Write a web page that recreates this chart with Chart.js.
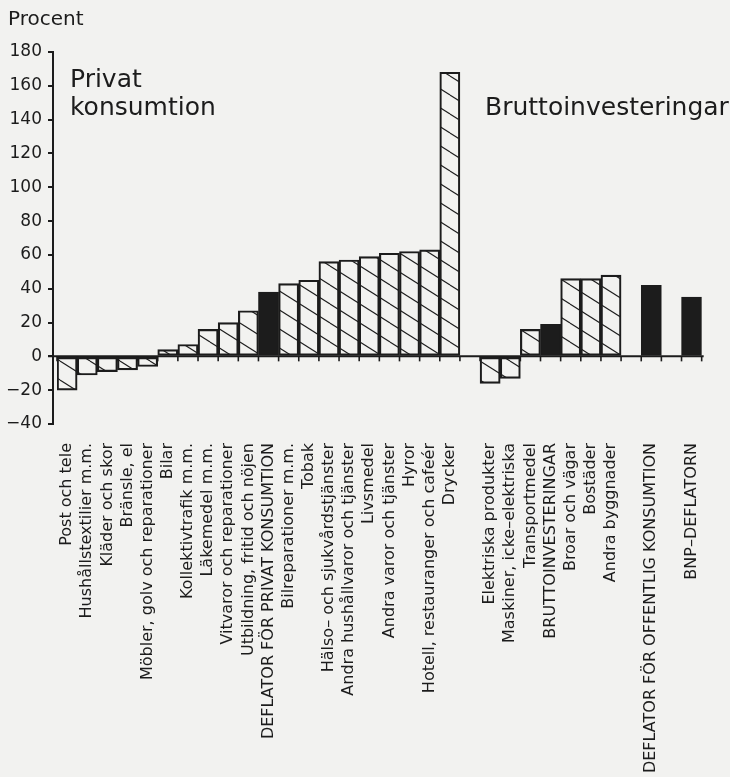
<!DOCTYPE html>
<html lang="sv">
<head>
<meta charset="utf-8">
<title>Prisutveckling</title>
<script src="https://cdn.jsdelivr.net/npm/chart.js@4/dist/chart.umd.min.js"></script>
<style>
  html, body { margin: 0; padding: 0; background: #f2f2f0; }
  #wrap { width: 730px; height: 777px; position: relative; }
</style>
</head>
<body>
<div id="wrap"><canvas id="grafico"></canvas></div>
<script>
// ==========================
// DATA
// ==========================
const kategorier = [
  "Post och tele",
  "Hushållstextilier m.m.",
  "Kläder och skor",
  "Bränsle, el",
  "Möbler, golv och reparationer",
  "Bilar",
  "Kollektivtrafik m.m.",
  "Läkemedel m.m.",
  "Vitvaror och reparationer",
  "Utbildning, fritid och nöjen",
  "DEFLATOR FÖR PRIVAT KONSUMTION",
  "Bilreparationer m.m.",
  "Tobak",
  "Hälso– och sjukvårdstjänster",
  "Andra hushållvaror och tjänster",
  "Livsmedel",
  "Andra varor och tjänster",
  "Hyror",
  "Hotell, restauranger och cafeér",
  "Drycker",
  "",
  "Elektriska produkter",
  "Maskiner, icke–elektriska",
  "Transportmedel",
  "BRUTTOINVESTERINGAR",
  "Broar och vägar",
  "Bostäder",
  "Andra byggnader",
  "",
  "DEFLATOR FÖR OFFENTLIG KONSUMTION",
  "",
  "BNP–DEFLATORN",
];

const procent = [
  -20, -11, -9, -8, -6, 4, 7, 16, 20, 27, 38, 43, 45, 56, 57, 59, 61, 62, 63, 168,
  null,
  -16, -13, 16, 19, 46, 46, 48,
  null,
  42,
  null,
  35,
];

// aggregat som ritas svarta
const summor = [
  "DEFLATOR FÖR PRIVAT KONSUMTION",
  "BRUTTOINVESTERINGAR",
  "DEFLATOR FÖR OFFENTLIG KONSUMTION",
  "BNP–DEFLATORN",
];

const Y_MIN = -40;
const Y_MAX = 180;
const Y_STEG = 20;

// ==========================
// STIL
// ==========================
const SVART = "#1c1c1c";
Chart.defaults.font.family = "'DejaVu Sans', sans-serif";
Chart.defaults.color = SVART;

function skraffering() {
  const p = document.createElement("canvas");
  p.width = 30;
  p.height = 19;
  const c = p.getContext("2d");
  c.strokeStyle = SVART;
  c.lineWidth = 1.1;
  for (const dy of [-19, 0, 19]) {
    c.beginPath();
    c.moveTo(0, dy);
    c.lineTo(30, dy + 19);
    c.stroke();
  }
  return c.createPattern(p, "repeat");
}

const monster = skraffering();
const fyllning = kategorier.map((k) => (summor.includes(k) ? SVART : monster));

// ==========================
// PLUGINS
// ==========================
const nollLinje = {
  id: "nollLinje",
  afterLayout(chart) {
    // liten lucka mellan y-axeln och första stapeln
    const x = chart.scales.x;
    x.left += 4;
    x.configure();
  },
  afterDatasetsDraw(chart) {
    const { ctx, scales } = chart;
    const x = scales.x;
    const y0 = scales.y.getPixelForValue(0);
    const bredd = (x.right - x.left) / kategorier.length;
    ctx.save();
    ctx.strokeStyle = SVART;
    ctx.lineWidth = 2;
    ctx.beginPath();
    ctx.moveTo(chart.chartArea.left - 5, y0);
    ctx.lineTo(x.right + 2, y0);
    ctx.stroke();
    ctx.lineWidth = 1.6;
    for (let i = 0; i <= kategorier.length; i++) {
      const px = x.getPixelForValue(0) - bredd / 2 + i * bredd;
      ctx.beginPath();
      ctx.moveTo(px, y0);
      ctx.lineTo(px, y0 + 5);
      ctx.stroke();
    }
    ctx.restore();
  },
  afterDraw(chart) {
    const ctx = chart.ctx;
    ctx.save();
    ctx.fillStyle = SVART;
    ctx.textAlign = "left";
    ctx.textBaseline = "alphabetic";
    ctx.font = "20px 'DejaVu Sans'";
    ctx.fillText("Procent", 8, 25);
    ctx.font = "25px 'DejaVu Sans'";
    ctx.fillText("Privat", 70, 87);
    ctx.fillText("konsumtion", 70, 115);
    ctx.fillText("Bruttoinvesteringar", 485, 115);
    ctx.restore();
  },
};

// ==========================
// GRAFIK
// ==========================
let chart;

function iniciarGrafico() {
  const ctx = document.getElementById("grafico").getContext("2d");

  chart = new Chart(ctx, {
    type: "bar",
    data: {
      labels: kategorier,
      datasets: [
        {
          data: procent,
          backgroundColor: fyllning,
          borderColor: SVART,
          borderWidth: 1.5,
          borderSkipped: false,
          barPercentage: 1,
          categoryPercentage: 1,
        },
      ],
    },
    options: {
      responsive: true,
      maintainAspectRatio: false,
      animation: false,
      layout: { padding: { top: 52, right: 17, bottom: 3, left: 0 } },
      plugins: {
        legend: { display: false },
        tooltip: { enabled: false },
      },
      scales: {
        x: {
          offset: true,
          grid: { display: false, drawTicks: false },
          border: { display: false },
          ticks: {
            autoSkip: false,
            minRotation: 90,
            maxRotation: 90,
            padding: 19,
            font: { size: 16 },
          },
          afterFit(s) {
            s.height = 350;
          },
        },
        y: {
          min: Y_MIN,
          max: Y_MAX,
          grid: {
            drawOnChartArea: false,
            drawTicks: true,
            tickLength: 5,
            color: SVART,
            lineWidth: 2,
          },
          border: { display: true, color: SVART, width: 2 },
          ticks: {
            stepSize: Y_STEG,
            padding: 6,
            font: { size: 17 },
            callback: (v) => (v < 0 ? "−" + Math.abs(v) : String(v)),
          },
          afterFit(s) {
            s.width = 53;
          },
        },
      },
    },
    plugins: [nollLinje],
  });
}

// ==========================
// INIT
// ==========================
window.onload = function () {
  iniciarGrafico();
};
</script>
</body>
</html>
